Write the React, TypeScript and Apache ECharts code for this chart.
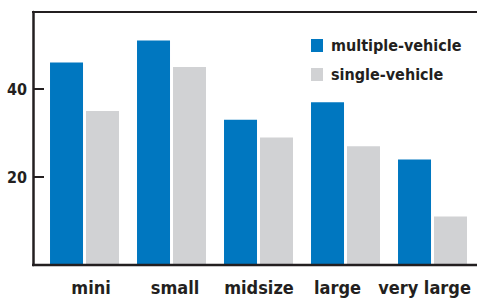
import React, { useEffect, useRef } from "react";
import * as echarts from "echarts";

const categories = ["mini", "small", "midsize", "large", "very large"];
const multipleVehicle = [46, 51, 33, 37, 24];
const singleVehicle = [35, 45, 29, 27, 11];
const yTicks = [20, 40];

// label horizontal nudges (px) to match reference placement
const labelShift = [6.5, 3.5, 0.5, -8, -8];

const FONT = '"DejaVu Sans Condensed", "Liberation Sans Narrow", sans-serif';
const DARK = "#231f20";

export default function App() {
  const ref = useRef<HTMLDivElement>(null);
  useEffect(() => {
    if (!ref.current) return;
    const chart = echarts.init(ref.current, undefined, { renderer: "svg" });
    chart.setOption({
      animation: false,
      backgroundColor: "#ffffff",
      grid: { left: 41, right: 1, top: 12, bottom: 34 },
      legend: {
        orient: "vertical",
        left: 311,
        top: 37,
        padding: 0,
        itemWidth: 12,
        itemHeight: 13,
        itemGap: 12,
        icon: "rect",
        textStyle: {
          fontFamily: FONT,
          fontWeight: "bold",
          fontSize: 16,
          lineHeight: 17,
          color: DARK,
          padding: [0, 0, 0, 3],
        },
        data: ["multiple-vehicle", "single-vehicle"],
      },
      xAxis: {
        type: "category",
        data: categories.map((c, i) => ({
          value: c,
          textStyle: {
            padding:
              labelShift[i] >= 0
                ? [0, 0, 0, labelShift[i] * 2]
                : [0, -labelShift[i] * 2, 0, 0],
          },
        })),
        axisLine: { show: false },
        axisTick: { show: false },
        axisLabel: {
          interval: 0,
          hideOverlap: false,
          fontFamily: FONT,
          fontWeight: "bold",
          fontSize: 18,
          color: DARK,
          margin: 13,
        },
      },
      yAxis: {
        type: "value",
        min: 0,
        max: 57.5,
        interval: 20,
        offset: 8,
        splitLine: { show: false },
        axisLine: { show: true, lineStyle: { color: DARK, width: 2.5 } },
        axisTick: { show: true, inside: true, length: 11, lineStyle: { color: DARK, width: 2 } },
        axisLabel: {
          fontFamily: FONT,
          fontWeight: "bold",
          fontSize: 16,
          color: DARK,
          margin: 6,
          showMaxLabel: false,
          formatter: (v: number) => (yTicks.includes(v) ? String(v) : ""),
        },
      },
      series: [
        {
          name: "multiple-vehicle",
          type: "bar",
          data: multipleVehicle,
          barWidth: 33,
          barGap: "9%",
          itemStyle: { color: "#0077c0" },
        },
        {
          name: "single-vehicle",
          type: "bar",
          data: singleVehicle,
          barWidth: 33,
          itemStyle: { color: "#d1d2d4" },
        },
      ],
      graphic: [
        {
          type: "line",
          shape: { x1: 32, y1: 12, x2: 477, y2: 12 },
          style: { stroke: DARK, lineWidth: 2 },
          z: 100,
        },
        {
          type: "line",
          shape: { x1: 32, y1: 265, x2: 477, y2: 265 },
          style: { stroke: DARK, lineWidth: 2.5 },
          z: 100,
        },
      ],
    });
    return () => chart.dispose();
  }, []);
  return (
    <div
      ref={ref}
      style={{ position: "absolute", left: 0, top: 0, width: 477, height: 299 }}
    />
  );
}
